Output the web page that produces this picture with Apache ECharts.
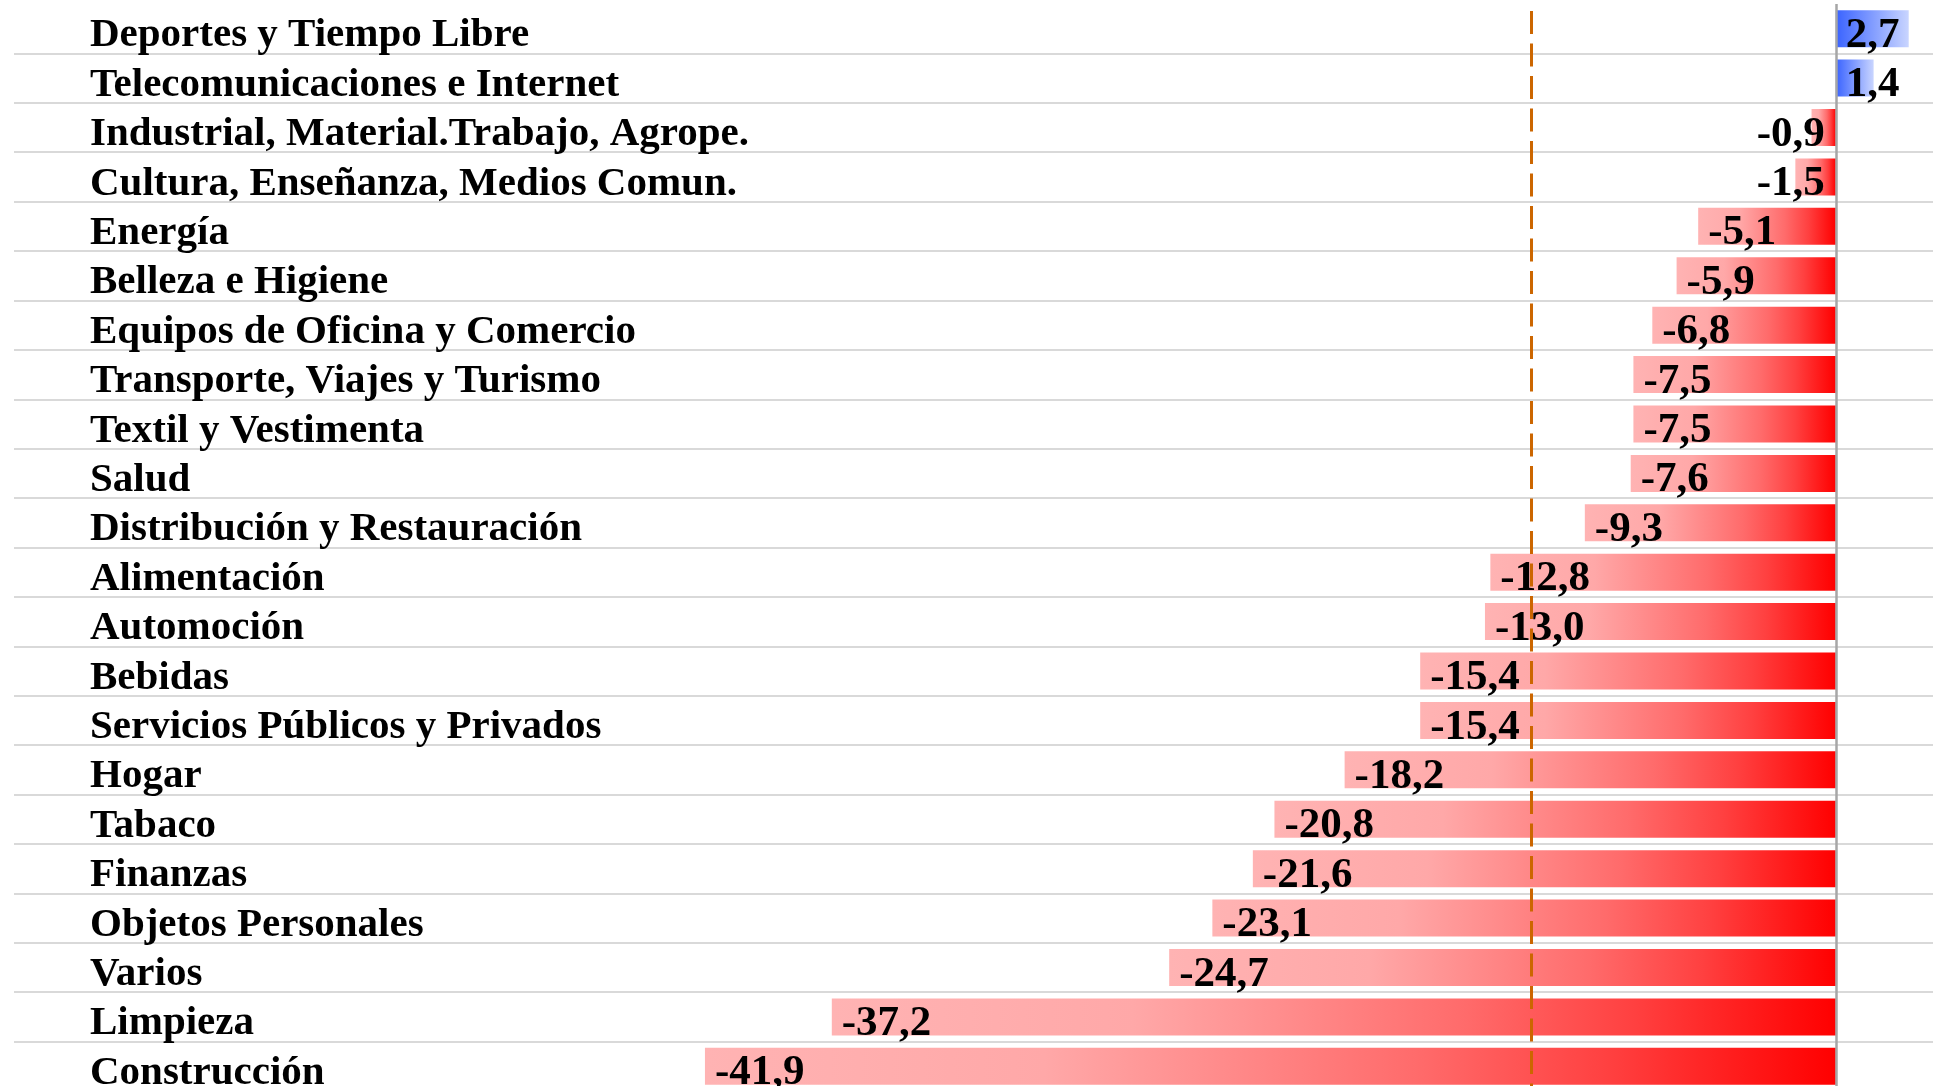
<!DOCTYPE html>
<html>
<head>
<meta charset="utf-8">
<script src="https://cdn.jsdelivr.net/npm/echarts@6/dist/echarts.min.js"></script>
<style>
    html, body { margin: 0; padding: 0; background: #fff; overflow: hidden; }
    #my_chart { width: 1933px; height: 1100px; }
</style>
</head>
<body>
<div id="my_chart"></div>
<script>
// sectores (de arriba a abajo)
var categories = [
    'Deportes y Tiempo Libre',
    'Telecomunicaciones e Internet',
    'Industrial, Material.Trabajo, Agrope.',
    'Cultura, Enseñanza, Medios Comun.',
    'Energía',
    'Belleza e Higiene',
    'Equipos de Oficina y Comercio',
    'Transporte, Viajes y Turismo',
    'Textil y Vestimenta',
    'Salud',
    'Distribución y Restauración',
    'Alimentación',
    'Automoción',
    'Bebidas',
    'Servicios Públicos y Privados',
    'Hogar',
    'Tabaco',
    'Finanzas',
    'Objetos Personales',
    'Varios',
    'Limpieza',
    'Construcción'
];
// variación (%)
var values = [2.7, 1.4, -0.9, -1.5, -5.1, -5.9, -6.8, -7.5, -7.5, -7.6, -9.3,
    -12.8, -13.0, -15.4, -15.4, -18.2, -20.8, -21.6, -23.1, -24.7, -37.2, -41.9];
// linea de referencia (discontinua)
var refValue = -11.3;

var FONT = '"Liberation Serif", "Times New Roman", serif';

var redFill = new echarts.graphic.LinearGradient(0, 0, 1, 0, [
    {offset: 0, color: '#ffb3b3'},
    {offset: 0.3, color: '#ffa8a8'},
    {offset: 0.63, color: '#ff6b6b'},
    {offset: 0.8, color: '#ff4040'},
    {offset: 1, color: '#ff0000'}
]);
var blueFill = new echarts.graphic.LinearGradient(0, 0, 1, 0, [
    {offset: 0, color: '#3a63ff'},
    {offset: 1, color: '#c9d5ff'}
]);

var seriesData = [];
for (var i = 0; i < values.length; i++) {
    var item = {
        value: values[i],
        itemStyle: {color: values[i] < 0 ? redFill : blueFill}
    };
    // barras muy cortas: etiqueta pegada al eje
    if (values[i] < 0 && values[i] > -3) {
        item.label = {position: 'insideRight', distance: 11};
    }
    seriesData.push(item);
}

var myChart = echarts.init(document.getElementById('my_chart'));
var option = {
    animation: false,
    grid: {left: 14, right: 0, top: 4, height: 1087},
    xAxis: {
        type: 'value',
        min: -67.5,
        max: 3.6,
        show: false
    },
    yAxis: {
        type: 'category',
        inverse: true,
        data: categories,
        axisLine: {show: false},
        axisTick: {show: false},
        axisLabel: {
            interval: 0,
            align: 'left',
            verticalAlign: 'top',
            lineHeight: 14,
            margin: -76,
            color: '#000',
            fontFamily: FONT,
            fontWeight: 'bold',
            fontSize: 41
        },
        splitLine: {
            show: true,
            interval: function (idx) { return idx !== 0; },
            lineStyle: {color: '#d9d9d9', width: 2}
        }
    },
    series: [
        {
            type: 'bar',
            barWidth: 37,
            data: seriesData,
            label: {
                show: true,
                position: 'insideLeft',
                distance: 10,
                offset: [0, 7],
                color: '#000',
                fontFamily: FONT,
                fontWeight: 'bold',
                fontSize: 43,
                formatter: function (p) {
                    return p.value.toFixed(1).replace('.', ',');
                }
            },
            markLine: {
                silent: true,
                symbol: ['none', 'none'],
                label: {show: false},
                data: [
                    {xAxis: 0, lineStyle: {color: '#a6a6a6', width: 2.5, type: 'solid'}},
                    {xAxis: refValue, lineStyle: {color: '#cc6600', width: 3, type: [23, 9.5], dashOffset: 25.5}}
                ]
            }
        }
    ]
};
myChart.setOption(option);
</script>
</body>
</html>
